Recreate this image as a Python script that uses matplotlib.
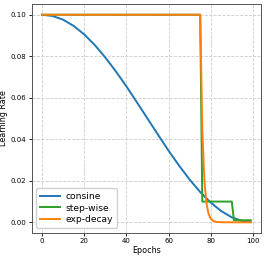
import matplotlib
matplotlib.use("Agg")
import matplotlib.pyplot as plt

# valeurs
cos_epochs = [0, 5, 10, 15, 20, 25, 30, 35, 40, 45, 50, 55, 60, 65, 70, 75, 80, 85, 90, 95, 99]
cos_lr = [0.1, 0.0994, 0.0976, 0.0946, 0.0905, 0.0854, 0.0794, 0.0727, 0.0655, 0.0578,
          0.05, 0.0422, 0.0345, 0.0273, 0.0206, 0.0146, 0.0095, 0.0054, 0.0024, 0.0006, 0.0001]

step_epochs = [0, 75, 76, 90, 91, 99]
step_lr = [0.1, 0.1, 0.01, 0.01, 0.001, 0.001]

exp_epochs = [0, 75, 76, 77, 78, 79, 80, 81, 82, 83, 84, 86, 99]
exp_lr = [0.1, 0.1, 0.045, 0.02, 0.009, 0.004, 0.0018, 0.0008, 0.0004, 0.0002, 0.0001, 0.00003, 0.0]

fig = plt.figure(figsize=(2.66, 2.56), dpi=100)
ax = fig.add_axes([0.119, 0.091, 0.863, 0.892])

ax.plot(cos_epochs, cos_lr, color="#1f77b4", lw=1.4, label="consine")
ax.plot(step_epochs, step_lr, color="#2ca02c", lw=1.4, label="step-wise")
ax.plot(exp_epochs, exp_lr, color="#ff7f0e", lw=1.4, label="exp-decay")

ax.set_xticks([0, 20, 40, 60, 80, 100])
ax.set_yticks([0.0, 0.02, 0.04, 0.06, 0.08, 0.10])
ax.set_yticklabels(["0.00", "0.02", "0.04", "0.06", "0.08", "0.10"])
ax.tick_params(labelsize=5, length=2.5, width=0.6, pad=1.5)
ax.set_xlabel("Epochs", fontsize=5.8, labelpad=1)
ax.set_ylabel("Learning Rate", fontsize=5.8, labelpad=2)
ax.grid(True, linestyle="--", color="#cccccc", lw=0.6)
for s in ax.spines.values():
    s.set_linewidth(0.7)
    s.set_color("#555555")

ax.legend(loc="lower left", fontsize=6.6, handlelength=2.2, borderpad=0.4,
          labelspacing=0.3, handletextpad=0.6, framealpha=0.9)

fig.savefig("out.png", dpi=100)
